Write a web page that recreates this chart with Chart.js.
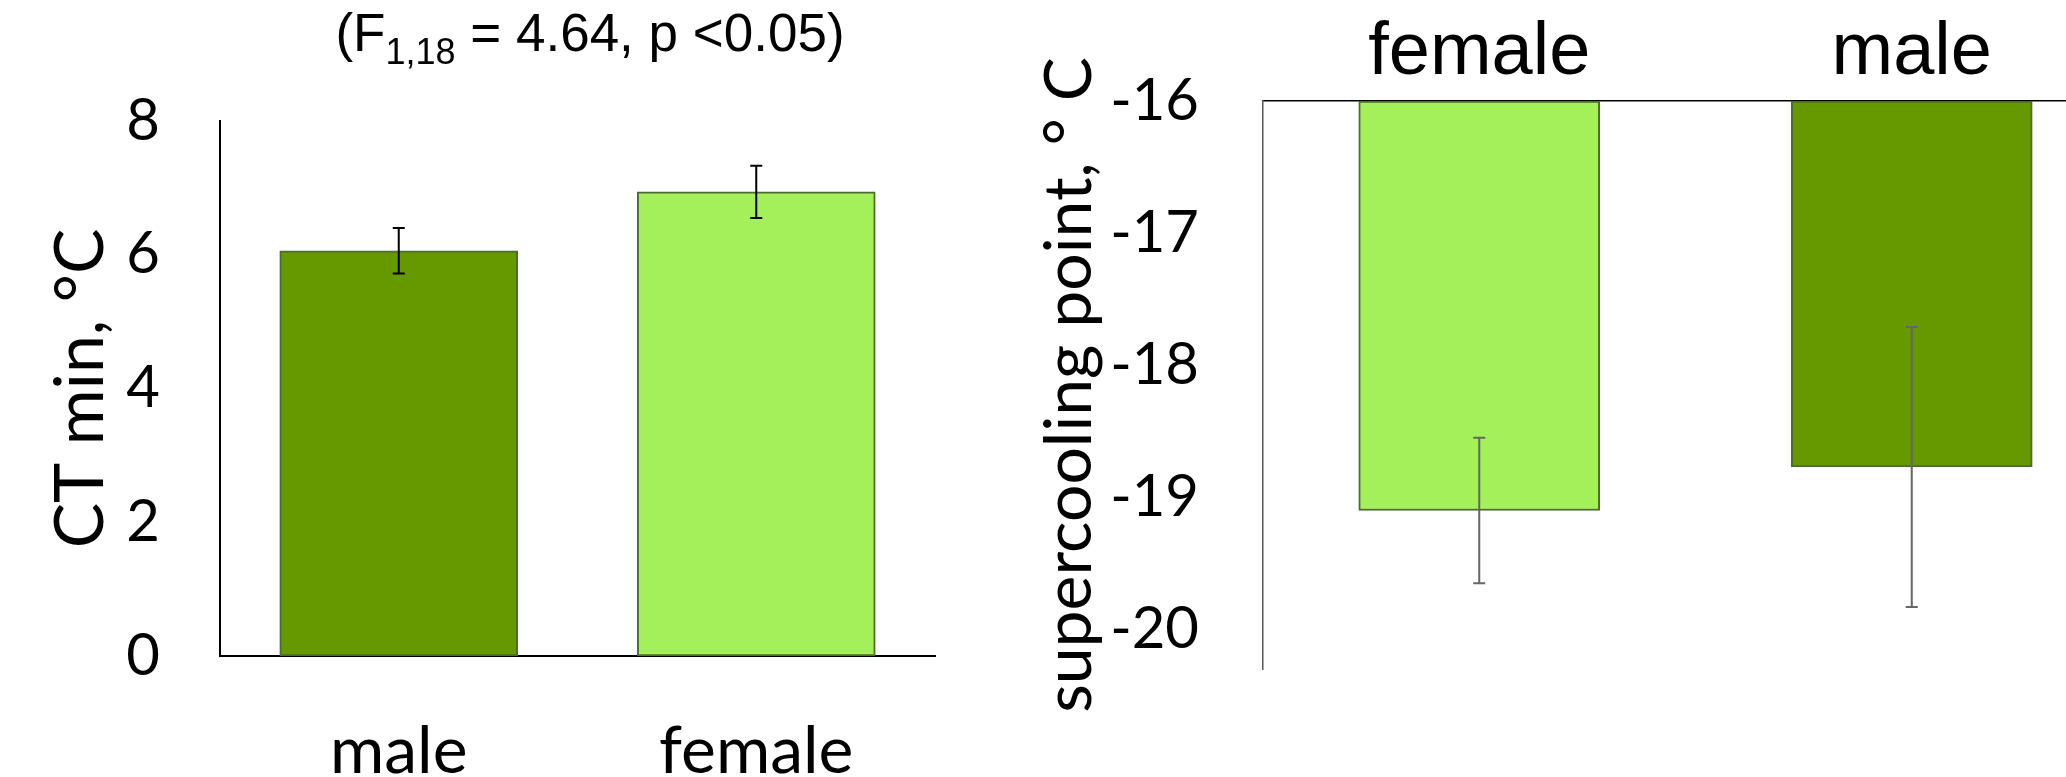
<!DOCTYPE html>
<html>
<head>
<meta charset="utf-8">
<script src="https://cdn.jsdelivr.net/npm/chart.js@4"></script>
<style>
  html, body { margin: 0; padding: 0; background: #fff; overflow: hidden; width: 2066px; height: 777px; }
  #ctChart { position: absolute; left: 0; top: 0; }
  #scpChart { position: absolute; left: 1000px; top: 0; }
</style>
</head>
<body>
<canvas id="ctChart" width="1000" height="777"></canvas>
<canvas id="scpChart" width="1200" height="777"></canvas>
<script>
// CT min panel
const ctCategories = ['male', 'female'];
const ctMeans = [6.06, 6.94];
const ctErrors = [0.34, 0.39];
const ctRange = [0, 8];
const ctTicks = [0, 2, 4, 6, 8];

// supercooling point panel
const scpCategories = ['female', 'male'];
const scpMeans = [-19.10, -18.77];
const scpErrors = [0.55, 1.06];
const scpRange = [-20.3, -16];
const scpTicks = [-20, -19, -18, -17, -16];

const darkGreen = '#669900';
const lightGreen = '#a3f05a';
const barEdge = '#4d6b2e';
const narrowFont = 'Lato';
const arialFont = '"Liberation Sans", Arial, sans-serif';

// draws mean +/- error whiskers using the chart's own scales
function makeErrorBars(errors, color, width, cap) {
    return {
        id: 'errorBars',
        afterDatasetsDraw(chart) {
            const {ctx, scales: {x, y}} = chart;
            const means = chart.data.datasets[0].data;
            ctx.save();
            ctx.strokeStyle = color;
            ctx.lineWidth = width;
            means.forEach((m, i) => {
                const px = x.getPixelForValue(i);
                const top = y.getPixelForValue(m + errors[i]);
                const bot = y.getPixelForValue(m - errors[i]);
                ctx.beginPath();
                ctx.moveTo(px, top); ctx.lineTo(px, bot);
                ctx.moveTo(px - cap, top); ctx.lineTo(px + cap, top);
                ctx.moveTo(px - cap, bot); ctx.lineTo(px + cap, bot);
                ctx.stroke();
            });
            ctx.restore();
        }
    };
}

// F statistic line with a subscript, centred over the plot
const statTitle = {
    id: 'statTitle',
    afterDraw(chart) {
        const ctx = chart.ctx;
        const big = '53px ' + arialFont;
        const small = '36px ' + arialFont;
        const parts = [['(F', big, 0], ['1,18', small, 13], [' = 4.64, p <0.05)', big, 0]];
        ctx.save();
        ctx.fillStyle = '#000';
        ctx.textBaseline = 'alphabetic';
        ctx.textAlign = 'left';
        let total = 0;
        parts.forEach(p => { ctx.font = p[1]; total += ctx.measureText(p[0]).width; });
        let x = 590 - total / 2;
        parts.forEach(p => {
            ctx.font = p[1];
            ctx.fillText(p[0], x, 51 + p[2]);
            x += ctx.measureText(p[0]).width;
        });
        ctx.restore();
    }
};

new Chart(document.getElementById('ctChart'), {
    type: 'bar',
    data: {
        labels: ctCategories,
        datasets: [{
            data: ctMeans,
            backgroundColor: [darkGreen, lightGreen],
            borderColor: barEdge,
            borderWidth: 2,
            borderSkipped: false,
            barThickness: 238
        }]
    },
    options: {
        responsive: false,
        animation: false,
        layout: { padding: { left: 0, right: 65, top: 121, bottom: 0 } },
        plugins: { legend: { display: false }, tooltip: { enabled: false } },
        scales: {
            x: {
                grid: { display: false, drawTicks: false },
                border: { color: '#000', width: 2 },
                ticks: { color: '#000', font: { family: narrowFont, size: 66 }, padding: 56 },
                afterFit(scale) { scale.height = 121; }
            },
            y: {
                min: ctRange[0],
                max: ctRange[1],
                grid: { display: false, drawTicks: false },
                border: { color: '#000', width: 2 },
                ticks: { color: '#000', font: { family: narrowFont, size: 58 }, padding: 60 },
                afterBuildTicks(scale) {
                    scale.ticks = ctTicks.map(v => ({ value: v }));
                },
                title: {
                    display: true,
                    text: 'CT min, °C',
                    color: '#000',
                    font: { family: narrowFont, size: 68 },
                    padding: { top: 40, bottom: 0 }
                },
                afterFit(scale) { scale.width = 220; }
            }
        }
    },
    plugins: [makeErrorBars(ctErrors, '#000', 2, 6), statTitle]
});

new Chart(document.getElementById('scpChart'), {
    type: 'bar',
    data: {
        labels: scpCategories,
        datasets: [{
            data: scpMeans,
            base: scpRange[1],
            backgroundColor: [lightGreen, darkGreen],
            borderColor: barEdge,
            borderWidth: 2,
            borderSkipped: false,
            barThickness: 241
        }]
    },
    options: {
        responsive: false,
        animation: false,
        layout: { padding: { left: 0, right: 72, top: 0, bottom: 108 } },
        plugins: { legend: { display: false }, tooltip: { enabled: false } },
        scales: {
            x: {
                position: 'top',
                grid: { display: false, drawTicks: false },
                border: { color: '#000', width: 1.5 },
                ticks: { color: '#000', font: { family: arialFont, size: 74 }, padding: 3 },
                afterFit(scale) { scale.height = 101; }
            },
            y: {
                min: scpRange[0],
                max: scpRange[1],
                grid: { display: false, drawTicks: false },
                border: { color: '#595959', width: 1.5 },
                ticks: { color: '#000', font: { family: narrowFont, size: 58 }, padding: 64 },
                afterBuildTicks(scale) {
                    scale.ticks = scpTicks.map(v => ({ value: v }));
                },
                title: {
                    display: true,
                    text: 'supercooling point, ° C',
                    color: '#000',
                    font: { family: narrowFont, size: 66 },
                    padding: { top: 30, bottom: 0 }
                },
                afterFit(scale) { scale.width = 263; }
            }
        }
    },
    plugins: [makeErrorBars(scpErrors, '#666666', 2, 6)]
});
</script>
</body>
</html>
